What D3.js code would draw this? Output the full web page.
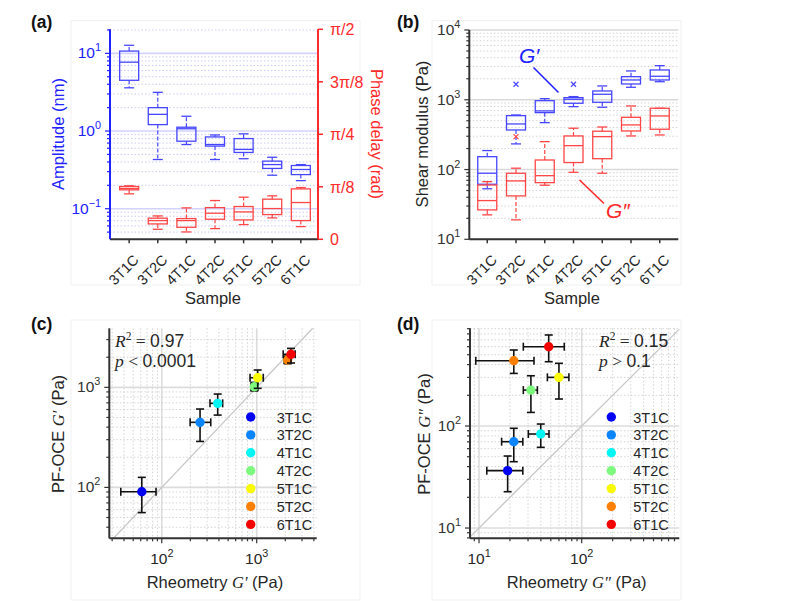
<!DOCTYPE html>
<html><head><meta charset="utf-8">
<script src="https://cdn.jsdelivr.net/npm/d3@7"></script>
<style>
body{margin:0;background:#fff}
svg{display:block}
text{font-family:"Liberation Sans",Arial,sans-serif;fill:#262626}
</style>
</head><body>
<svg id="chart" width="797" height="603"></svg>
<script>
// ---------------- DATA ----------------
const samples = ["3T1C","3T2C","4T1C","4T2C","5T1C","5T2C","6T1C"];

// (a) Amplitude (nm) box stats
const ampLo  = [3.6, 0.43, 0.67, 0.43, 0.44, 0.27, 0.23];
const ampQ1  = [4.5, 1.21, 0.74, 0.64, 0.53, 0.33, 0.275];
const ampMed = [7.7, 1.64, 1.07, 0.67, 0.58, 0.37, 0.32];
const ampQ3  = [10.7, 2.0, 1.12, 0.84, 0.80, 0.41, 0.36];
const ampHi  = [12.7, 3.15, 1.55, 0.89, 0.92, 0.46, 0.37];

// (a) Phase delay (rad) box stats
const phLo  = [0.340, 0.075, 0.055, 0.080, 0.110, 0.160, 0.095];
const phQ1  = [0.370, 0.115, 0.090, 0.150, 0.145, 0.185, 0.140];
const phMed = [0.380, 0.140, 0.140, 0.195, 0.205, 0.230, 0.275];
const phQ3  = [0.395, 0.158, 0.155, 0.237, 0.245, 0.300, 0.377];
const phHi  = [0.400, 0.175, 0.235, 0.290, 0.315, 0.325, 0.387];
const phTickLabels = ["0","\u03c0/8","\u03c0/4","3\u03c0/8","\u03c0/2"];

// (b) G' (Pa) box stats
const gpLo  = [53, 233, 470, 797, 781, 1510, 1815];
const gpQ1  = [61.5, 369, 654, 891, 921, 1684, 1922];
const gpMed = [88.5, 450, 692, 1016, 1199, 1922, 2172];
const gpQ3  = [153, 592, 970, 1072, 1337, 2143, 2672];
const gpHi  = [187, 605, 1037, 1110, 1578, 2588, 3085];
const gpOutSample = ["3T2C","4T2C"];
const gpOutValue  = [1667, 1667];

// (b) G'' (Pa) box stats
const gppLo  = [22.4, 19, 59.6, 91.4, 88.5, 303, 313];
const gppQ1  = [26.4, 41.9, 64.9, 126, 143, 357, 378];
const gppMed = [35.9, 68.7, 81.8, 220, 296, 436, 586];
const gppQ3  = [60, 88.5, 137, 303, 354, 561, 755];
const gppHi  = [67, 104.5, 251, 391, 407, 815, 755];
const gppOutSample = ["3T2C"];
const gppOutValue  = [296];

// (c) Rheometry G' vs PF-OCE G'
const rheoGp    = [61.6, 253, 388, 944, 1024, 2119, 2296];
const rheoGpLo  = [37, 199, 322, 870, 851, 1950, 1900];
const rheoGpHi  = [87, 328, 438, 1030, 1173, 2300, 2540];
const oceGp     = [90.4, 447, 692, 1014, 1247, 1875, 2138];
const oceGpLo   = [56, 288, 528, 920, 977, 1720, 1750];
const oceGpHi   = [126, 607, 857, 1120, 1490, 2050, 2450];

// (d) Rheometry G'' vs PF-OCE G''
const rheoGpp   = [19.0, 21.8, 39.9, 32, 60, 21.8, 47.7];
const rheoGppLo = [11.9, 16.6, 30.2, 27, 46.3, 9.3, 27];
const rheoGppHi = [26.7, 26.7, 48, 37, 75, 34.3, 67.6];
const oceGpp    = [36.5, 70.2, 83.5, 225, 300, 436, 599];
const oceGppLo  = [22.7, 44.7, 61.8, 136, 184, 328, 427];
const oceGppHi  = [50.8, 95, 104.6, 311, 412, 556, 781];

const statsC = ["R", "2", " = ", "0.97", "p", " < ", "0.0001"];
const statsD = ["R", "2", " = ", "0.15", "p", " > ", "0.1"];

// palette (jet-like)
const palette = ["#0000f5","#0a84ff","#00f5f5","#7dfa7d","#fafa00","#ff8000","#f50000"];

// ---------------- HELPERS ----------------
const svg = d3.select("#chart");
const SERIF = '"Liberation Serif","Times New Roman",serif';
const AX = "#333333";
const BLUE = "#2222ff", RED = "#ff2a2a";
const BOXBLUE = "#4646ff", BOXRED = "#ff4646";

function logVals(lo, hi){
  const out=[];
  for(let e=Math.floor(Math.log10(lo)); e<=Math.ceil(Math.log10(hi)); e++){
    for(let k=1;k<10;k++){
      const v=k*Math.pow(10,e);
      if(v>=lo*0.9999 && v<=hi*1.0001) out.push({v, major:k===1, e});
    }
  }
  return out;
}
function hGrid(g, y, x0, x1, vals, majC, minC){
  vals.forEach(t=>{
    g.append("line").attr("x1",x0).attr("x2",x1).attr("y1",y(t.v)).attr("y2",y(t.v))
      .attr("stroke", t.major?majC:minC).attr("stroke-width", t.major?1.6:0.9)
      .attr("stroke-dasharray", t.major?null:"1.5,2");
  });
}
function vGrid(g, x, y0, y1, vals, majC, minC){
  vals.forEach(t=>{
    g.append("line").attr("y1",y0).attr("y2",y1).attr("x1",x(t.v)).attr("x2",x(t.v))
      .attr("stroke", t.major?majC:minC).attr("stroke-width", t.major?1.6:0.9)
      .attr("stroke-dasharray", t.major?null:"1.5,2");
  });
}
function powLabel(g, x, y, e, anchor, color, fs){
  const t=g.append("text").attr("x",x).attr("y",y).attr("text-anchor",anchor)
    .attr("font-size",fs).style("fill",color);
  t.append("tspan").text("10");
  t.append("tspan").attr("dy",-7).attr("font-size",fs*0.7).text(e<0?"\u2212"+(-e):String(e));
  return t;
}
function leftLogAxis(g, y, x, y0, y1, vals, color, fs){
  g.append("line").attr("x1",x).attr("x2",x).attr("y1",y0).attr("y2",y1).attr("stroke",color).attr("stroke-width",2);
  vals.forEach(t=>{
    g.append("line").attr("x1",x).attr("x2",x-(t.major?5:3)).attr("y1",y(t.v)).attr("y2",y(t.v))
      .attr("stroke",color).attr("stroke-width",1.2);
    if(t.major) powLabel(g, x-9, y(t.v)+5, t.e, "end", color, fs);
  });
}
function bottomLogAxis(g, x, y, x0, x1, vals, color, fs){
  g.append("line").attr("x1",x0).attr("x2",x1).attr("y1",y).attr("y2",y).attr("stroke",color).attr("stroke-width",2);
  vals.forEach(t=>{
    g.append("line").attr("x1",x(t.v)).attr("x2",x(t.v)).attr("y1",y).attr("y2",y+(t.major?5:3))
      .attr("stroke",color).attr("stroke-width",1.2);
    if(t.major) powLabel(g, x(t.v), y+26, t.e, "middle", "#262626", fs);
  });
}
function categoryAxis(g, xs, y, x0, x1){
  g.append("line").attr("x1",x0).attr("x2",x1).attr("y1",y).attr("y2",y).attr("stroke",AX).attr("stroke-width",2);
  samples.forEach(s=>{
    g.append("line").attr("x1",xs(s)).attr("x2",xs(s)).attr("y1",y).attr("y2",y+4).attr("stroke",AX).attr("stroke-width",1.5);
    g.append("text").attr("transform",`translate(${xs(s)+7},${y+18}) rotate(-45)`)
      .attr("text-anchor","end").attr("dy","0.35em").attr("font-size",14.5).text(s);
  });
}
function box(g, cx, s, lo, q1, med, q3, hi, col){
  const w=19, cw=10;
  g.append("line").attr("x1",cx).attr("x2",cx).attr("y1",s(q3)).attr("y2",s(hi))
    .attr("stroke",col).attr("stroke-width",1.2).attr("stroke-dasharray","4,2");
  g.append("line").attr("x1",cx).attr("x2",cx).attr("y1",s(q1)).attr("y2",s(lo))
    .attr("stroke",col).attr("stroke-width",1.2).attr("stroke-dasharray","4,2");
  [hi,lo].forEach(v=>g.append("line").attr("x1",cx-cw/2).attr("x2",cx+cw/2).attr("y1",s(v)).attr("y2",s(v))
    .attr("stroke",col).attr("stroke-width",1.3));
  g.append("rect").attr("x",cx-w/2).attr("y",s(q3)).attr("width",w).attr("height",Math.max(0.5,s(q1)-s(q3)))
    .attr("fill","none").attr("stroke",col).attr("stroke-width",1.3);
  g.append("line").attr("x1",cx-w/2).attr("x2",cx+w/2).attr("y1",s(med)).attr("y2",s(med))
    .attr("stroke",col).attr("stroke-width",1.3);
}
function outlier(g, cx, cy, col){
  g.append("path").attr("d",d3.symbol(d3.symbolX, 18)()).attr("transform",`translate(${cx},${cy})`)
    .attr("fill","none").attr("stroke",col).attr("stroke-width",1.2);
}
function panelLabel(x,y,t){
  svg.append("text").attr("x",x).attr("y",y).attr("font-size",17.5).attr("font-weight","bold").style("fill","#111").text(t);
}
function frame(x0,y0,x1,y1){
  svg.append("rect").attr("x",x0).attr("y",y0).attr("width",x1-x0).attr("height",y1-y0)
    .attr("fill","none").attr("stroke","#f1f1f1").attr("stroke-width",1);
}

// ---------------- PANEL (a) ----------------
(function(){
  const x0=110, x1=318, y0=29.3, y1=239.3;
  frame(71,20.7,360,285);
  const g=svg.append("g");
  const xs=d3.scalePoint().domain(samples).range([112,318]).padding(0.6);
  const yL=d3.scaleLog().domain([0.0404,20.4]).range([y1,y0]);
  const yR=d3.scaleLinear().domain([0,Math.PI/2]).range([y1,y0]);
  const vals=logVals(0.0404,20.4);
  hGrid(g, yL, x0, x1, vals, "#d2d2ff", "#c4c4f4");
  samples.forEach((s,i)=>box(g, xs(s), yL, ampLo[i], ampQ1[i], ampMed[i], ampQ3[i], ampHi[i], BOXBLUE));
  samples.forEach((s,i)=>box(g, xs(s), yR, phLo[i], phQ1[i], phMed[i], phQ3[i], phHi[i], BOXRED));
  categoryAxis(g, xs, y1, x0, x1);
  leftLogAxis(g, yL, x0, y0, y1, vals, BLUE, 15.5);
  g.append("line").attr("x1",x1).attr("x2",x1).attr("y1",y0).attr("y2",y1).attr("stroke",RED).attr("stroke-width",2);
  phTickLabels.forEach((lab,i)=>{
    const v=i*Math.PI/8;
    g.append("line").attr("x1",x1).attr("x2",x1+5).attr("y1",yR(v)).attr("y2",yR(v)).attr("stroke",RED).attr("stroke-width",1.5);
    g.append("text").attr("x",x1+12).attr("y",yR(v)+6).attr("font-size",16).style("fill",RED).text(lab);
  });
  g.append("text").attr("transform","translate(64,134) rotate(-90)").attr("text-anchor","middle")
    .attr("font-size",16.5).style("fill",BLUE).text("Amplitude  (nm)");
  g.append("text").attr("transform","translate(371,134) rotate(90)").attr("text-anchor","middle")
    .attr("font-size",16.5).style("fill",RED).text("Phase delay  (rad)");
  g.append("text").attr("x",213).attr("y",304).attr("text-anchor","middle").attr("font-size",16.5).text("Sample");
  panelLabel(31,28,"(a)");
})();

// ---------------- PANEL (b) ----------------
(function(){
  const x0=469.3, x1=678.3, y0=30, y1=239.3;
  frame(432,20.7,681,285);
  const g=svg.append("g");
  const xs=d3.scalePoint().domain(samples).range([470,677]).padding(0.6);
  const y=d3.scaleLog().domain([10,10000]).range([y1,y0]);
  const vals=logVals(10,10000);
  hGrid(g, y, x0, x1, vals, "#d9d9d9", "#cfcfcf");
  samples.forEach((s,i)=>box(g, xs(s), y, gpLo[i], gpQ1[i], gpMed[i], gpQ3[i], gpHi[i], BOXBLUE));
  samples.forEach((s,i)=>box(g, xs(s), y, gppLo[i], gppQ1[i], gppMed[i], gppQ3[i], gppHi[i], BOXRED));
  gpOutSample.forEach((s,i)=>outlier(g, xs(s), y(gpOutValue[i]), BOXBLUE));
  gppOutSample.forEach((s,i)=>outlier(g, xs(s), y(gppOutValue[i]), BOXRED));
  categoryAxis(g, xs, y1, x0, x1);
  leftLogAxis(g, y, x0, y0, y1, vals, AX, 15.5);
  g.append("line").attr("x1",533.5).attr("y1",67.5).attr("x2",558.5).attr("y2",92.5).attr("stroke",BLUE).attr("stroke-width",1.6);
  g.append("text").attr("x",519).attr("y",63).attr("font-family",SERIF).attr("font-style","italic")
    .attr("font-size",21).style("fill",BLUE).text("G\u2032");
  g.append("line").attr("x1",579.5).attr("y1",180).attr("x2",604).attr("y2",203.5).attr("stroke",RED).attr("stroke-width",1.6);
  g.append("text").attr("x",606).attr("y",218).attr("font-family",SERIF).attr("font-style","italic")
    .attr("font-size",21).style("fill",RED).text("G\u2033");
  g.append("text").attr("transform","translate(428,134) rotate(-90)").attr("text-anchor","middle")
    .attr("font-size",16.5).text("Shear modulus  (Pa)");
  g.append("text").attr("x",572).attr("y",304).attr("text-anchor","middle").attr("font-size",16.5).text("Sample");
  panelLabel(397,28,"(b)");
})();

// ---------------- SCATTER PANELS ----------------
function scatterPanel(o){
  const {x0,x1,y0,y1,xd,yd,xv,xlo,xhi,yv,ylo,yhi,legX,legT,stats,statX,ylab,xlab,ylabX,prime} = o;
  const g=svg.append("g");
  const x=d3.scaleLog().domain(xd).range([x0,x1]);
  const y=d3.scaleLog().domain(yd).range([y1,y0]);
  const xvals=logVals(xd[0],xd[1]), yvals=logVals(yd[0],yd[1]);
  vGrid(g, x, y0, y1, xvals, "#dcdcdc", "#cfcfcf");
  hGrid(g, y, x0, x1, yvals, "#dcdcdc", "#cfcfcf");
  const lo=Math.max(xd[0],yd[0]), hi=Math.min(xd[1],yd[1]);
  g.append("line").attr("x1",x(lo)).attr("y1",y(lo)).attr("x2",x(hi)).attr("y2",y(hi))
    .attr("stroke","#c8c8c8").attr("stroke-width",1.3);
  samples.forEach((s,i)=>{
    const cx=x(xv[i]), cy=y(yv[i]);
    const eb=g.append("g").attr("stroke","#111").attr("stroke-width",1.6);
    eb.append("line").attr("x1",x(xlo[i])).attr("x2",x(xhi[i])).attr("y1",cy).attr("y2",cy);
    eb.append("line").attr("x1",cx).attr("x2",cx).attr("y1",y(ylo[i])).attr("y2",y(yhi[i]));
    [xlo[i],xhi[i]].forEach(v=>eb.append("line").attr("x1",x(v)).attr("x2",x(v)).attr("y1",cy-4).attr("y2",cy+4));
    [ylo[i],yhi[i]].forEach(v=>eb.append("line").attr("y1",y(v)).attr("y2",y(v)).attr("x1",cx-4).attr("x2",cx+4));
    g.append("circle").attr("cx",cx).attr("cy",cy).attr("r",4.7).attr("fill",palette[i]);
  });
  samples.forEach((s,i)=>{
    const ly=417+i*17.9;
    g.append("circle").attr("cx",legX).attr("cy",ly).attr("r",4.7).attr("fill",palette[i]);
    g.append("text").attr("x",legX+legT).attr("y",ly+5.5).attr("font-size",14.5).text(s);
  });
  const t1=g.append("text").attr("x",statX).attr("y",347).attr("font-size",17.5);
  t1.append("tspan").attr("font-family",SERIF).attr("font-style","italic").text(stats[0]);
  t1.append("tspan").attr("font-family",SERIF).attr("font-size",11.5).attr("dy",-7).text(stats[1]);
  t1.append("tspan").attr("font-family",SERIF).attr("dy",7).text(stats[2]);
  t1.append("tspan").text(stats[3]);
  const t2=g.append("text").attr("x",statX).attr("y",367).attr("font-size",17.5);
  t2.append("tspan").attr("font-family",SERIF).attr("font-style","italic").text(stats[4]);
  t2.append("tspan").attr("font-family",SERIF).text(stats[5]);
  t2.append("tspan").text(stats[6]);
  leftLogAxis(g, y, x0, y0, y1, yvals, AX, 15.5);
  bottomLogAxis(g, x, y1, x0, x1, xvals, AX, 15.5);
  const yl=g.append("text").attr("transform",`translate(${ylabX},434) rotate(-90)`).attr("text-anchor","middle").attr("font-size",16.5);
  yl.append("tspan").text(ylab+" ");
  yl.append("tspan").attr("font-family",SERIF).attr("font-style","italic").text("G"+prime);
  yl.append("tspan").text("  (Pa)");
  const xl=g.append("text").attr("x",(x0+x1)/2+2).attr("y",588).attr("text-anchor","middle").attr("font-size",16.5);
  xl.append("tspan").text(xlab+" ");
  xl.append("tspan").attr("font-family",SERIF).attr("font-style","italic").text("G"+prime);
  xl.append("tspan").text("  (Pa)");
}

frame(71,320,360,600);
scatterPanel({x0:109.3,x1:316.7,y0:328.3,y1:538.3,xd:[28,4285],yd:[31,3890],
  xv:rheoGp,xlo:rheoGpLo,xhi:rheoGpHi,yv:oceGp,ylo:oceGpLo,yhi:oceGpHi,
  legX:250.7,legT:26,stats:statsC,statX:115,ylab:"PF-OCE",xlab:"Rheometry",ylabX:64,prime:"\u2032"});
panelLabel(31,330,"(c)");

frame(432,320,681,600);
scatterPanel({x0:470,x1:679.3,y0:328.3,y1:538.3,xd:[8.17,891],yd:[7.93,908],
  xv:rheoGpp,xlo:rheoGppLo,xhi:rheoGppHi,yv:oceGpp,ylo:oceGppLo,yhi:oceGppHi,
  legX:611.3,legT:22,stats:statsD,statX:599,ylab:"PF-OCE",xlab:"Rheometry",ylabX:430,prime:"\u2033"});
panelLabel(397,330,"(d)");
</script>
</body></html>
